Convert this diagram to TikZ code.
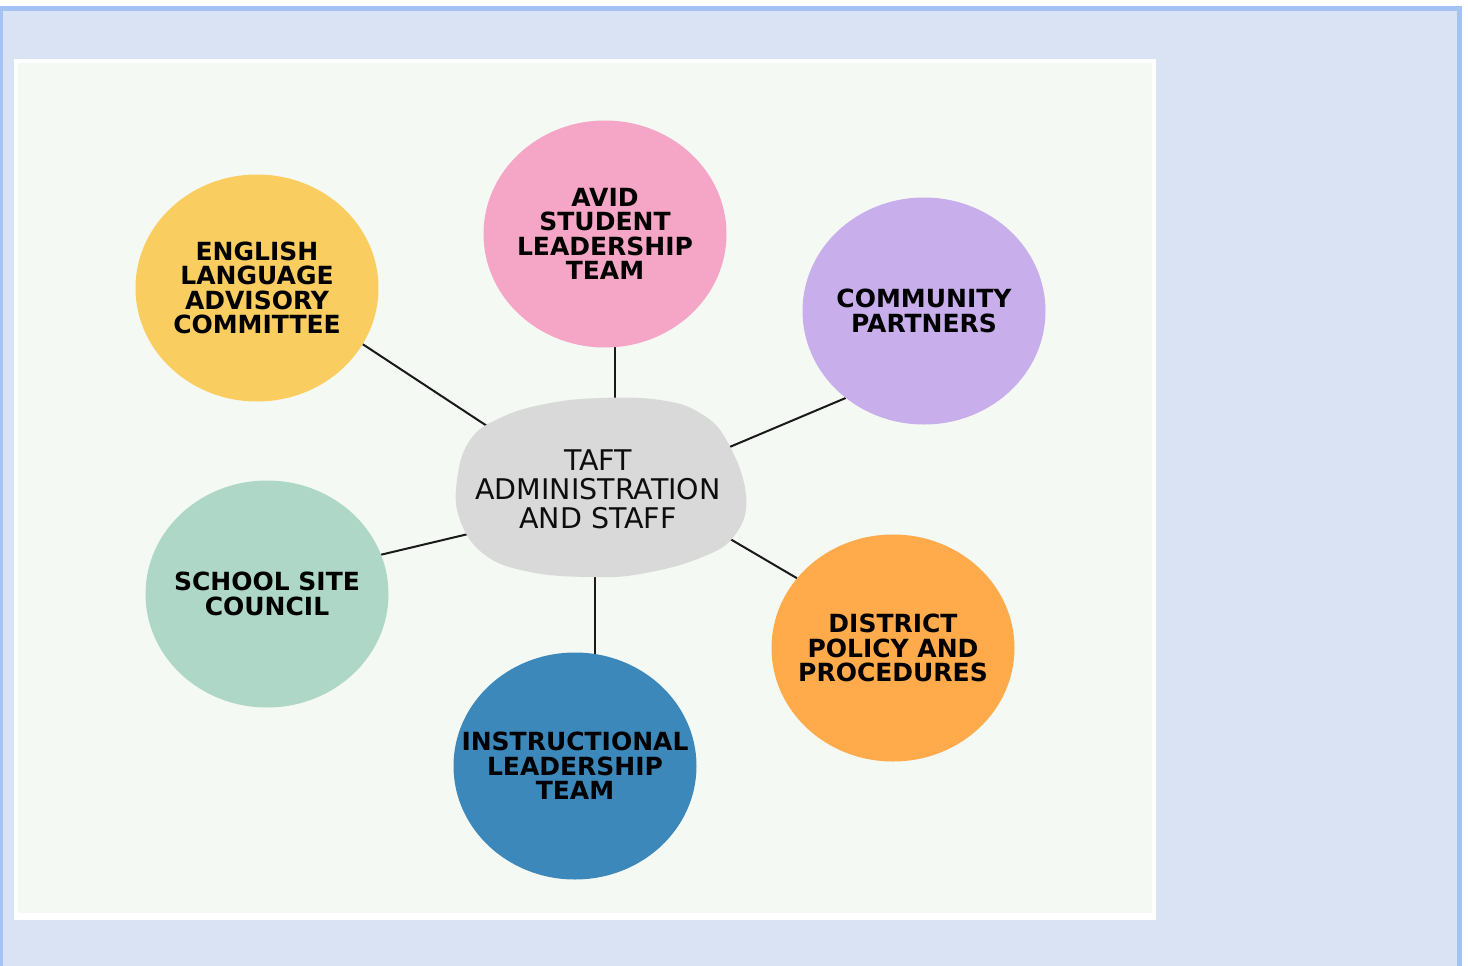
\documentclass[tikz,border=0pt]{standalone}
\usepackage{fontspec}
\setmainfont{DejaVu Sans}
\usetikzlibrary{shapes.geometric, backgrounds}
\definecolor{pagebg}{HTML}{DAE3F3}
\definecolor{pageline}{HTML}{A4C2F4}
\definecolor{panelbg}{HTML}{F4F9F3}
\definecolor{hubgray}{HTML}{D9D9D9}
\definecolor{grpyellow}{HTML}{F9CD60}
\definecolor{grppink}{HTML}{F5A6C6}
\definecolor{grplilac}{HTML}{C8AEEB}
\definecolor{grpmint}{HTML}{AED7C8}
\definecolor{grpblue}{HTML}{3C88BA}
\definecolor{grporange}{HTML}{FFAA4B}
\tikzset{
  grpcirc/.style = {ellipse, minimum width=243pt, minimum height=227pt,
                    inner sep=-40pt, align=center, text=black,
                    font=\bfseries\fontsize{25}{24.5}\selectfont},
  hubtxt/.style  = {ellipse, minimum width=260pt, minimum height=160pt,
                    inner sep=-60pt, align=center, text=black!95,
                    font=\fontsize{28.5}{29}\selectfont},
  grplink/.style = {draw=black!90, line width=2pt},
}

\begin{document}
\begin{tikzpicture}[x=1pt, y=-1pt]
    \useasboundingbox (0,0) rectangle (1468,966);
    % page and panel
    \begin{scope}[on background layer]
        \fill[white] (0,0) rectangle (1468,966);
        \fill[pageline] (0,6) rectangle (1462,966);
        \fill[pagebg] (3,11) rectangle (1457,966);
        \fill[white] (14,59) rectangle (1156,920);
        \fill[panelbg] (18,63) rectangle (1152,913);
    \end{scope}

    % the hub blob
    \fill[hubgray] plot[smooth cycle, tension=0.7] coordinates {
        (600,398) (660,400) (700,413) (727,441) (746,495) (735,535)
        (700,558) (640,574) (590,577) (530,572) (485,555) (460,520)
        (457,480) (470,440) (500,418) (545,404)};
    \node[hubtxt] (taft) at (598,489) {TAFT\\ADMINISTRATION\\AND STAFF};

    % groups around it
    \node[grpcirc, fill=grpyellow] (elac) at (257,288)
         {ENGLISH\\LANGUAGE\\ADVISORY\\COMMITTEE};
    \node[grpcirc, fill=grppink] (avid) at (605,234)
         {AVID\\STUDENT\\LEADERSHIP\\TEAM};
    \node[grpcirc, fill=grplilac] (comm) at (924,311)
         {COMMUNITY\\PARTNERS};
    \node[grpcirc, fill=grpmint] (ssc) at (267,594)
         {SCHOOL SITE\\COUNCIL};
    \node[grpcirc, fill=grpblue] (ilt) at (575,766)
         {INSTRUCTIONAL\\LEADERSHIP\\TEAM};
    \node[grpcirc, fill=grporange] (dist) at (893,648)
         {DISTRICT\\POLICY AND\\PROCEDURES};

    % spokes, kept under the blob
    \begin{scope}[on background layer]
        \draw[grplink] (elac.-28)  -- (taft.151);
        \draw[grplink] (avid.-85)  -- (avid.-85 |- taft.north);
        \draw[grplink] (comm.-132) -- (taft.17);
        \draw[grplink] (ssc.19)    -- (taft.-160);
        \draw[grplink] (ilt.80)    -- (ilt.80 |- taft.south);
        \draw[grplink] (dist.144)  -- (taft.-19);
    \end{scope}
\end{tikzpicture}
\end{document}
